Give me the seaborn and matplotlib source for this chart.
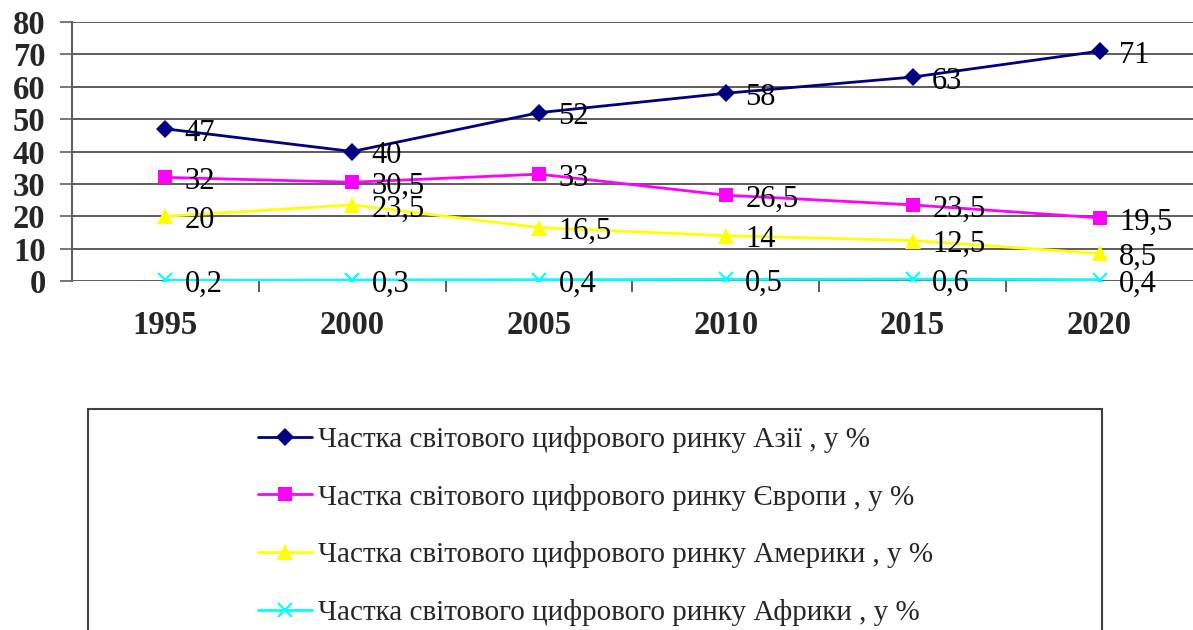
import matplotlib
matplotlib.use("Agg")
import matplotlib.pyplot as plt
import matplotlib.patches as mpatches
from matplotlib.lines import Line2D
import seaborn as sns

years = ["1995", "2000", "2005", "2010", "2015", "2020"]
asia = [47, 40, 52, 58, 63, 71]
europe = [32, 30.5, 33, 26.5, 23.5, 19.5]
america = [20, 23.5, 16.5, 14, 12.5, 8.5]
africa = [0.2, 0.3, 0.4, 0.5, 0.6, 0.4]

series_names = [
    "Частка світового цифрового ринку Азії , у %",
    "Частка світового цифрового ринку Європи , у %",
    "Частка світового цифрового ринку Америки , у %",
    "Частка світового цифрового ринку Африки , у %",
]
series_vals = [asia, europe, america, africa]
colors = ["#000080", "#FF00FF", "#FFFF00", "#00FFFF"]
markers = ["D", "s", "^", "x"]
msizes = [9, 10, 12, 10]

sns.set_style("white")
plt.rcParams["font.family"] = ["Liberation Serif", "DejaVu Serif"]

W, H = 1193, 630
fig = plt.figure(figsize=(W / 100, H / 100), dpi=100)
ax = fig.add_axes([72 / W, 1 - 281 / H, (W - 72) / W, (281 - 22) / H])

xs = list(range(len(years)))
handles = []
for name, vals, c, m, ms in zip(series_names, series_vals, colors, markers, msizes):
    mew = 1.5 if m == "x" else 0
    sns.lineplot(x=xs, y=vals, ax=ax, color=c, linewidth=2, marker=m,
                 markersize=ms, markeredgecolor=c, markeredgewidth=mew,
                 zorder=3, legend=False)
    for x, v in zip(xs, vals):
        lbl = f"{v:g}".replace(".", ",")
        ax.annotate(lbl, (x, v), xytext=(14, -3), textcoords="offset points",
                    ha="left", va="center", fontsize=22, color="black", zorder=4)
    handles.append(Line2D([], [], color=c, linewidth=2, marker=m, markersize=ms,
                          markeredgecolor=c, markeredgewidth=mew))

ax.set_xlim(-0.5, len(years) - 0.5)
ax.set_ylim(0, 80)
ax.set_yticks(range(0, 81, 10))
ax.set_xticks(xs)
ax.set_xticklabels(years)
ax.set_xticks([x + 0.5 for x in xs[:-1]], minor=True)
ax.yaxis.grid(True, color="#303030", linewidth=1.1)
ax.set_axisbelow(True)
for side in ["top", "right", "bottom"]:
    ax.spines[side].set_visible(False)
ax.spines["left"].set_color("#606060")
ax.spines["left"].set_linewidth(1.5)
ax.axhline(0, color="#606060", linewidth=2, zorder=1)
ax.tick_params(axis="y", which="major", length=9, width=1.2, color="#606060",
               pad=10, labelsize=23.5, direction="out", left=True)
ax.tick_params(axis="x", which="major", length=0, pad=21, labelsize=23.5)
ax.tick_params(axis="x", which="minor", length=8, width=1.2, color="#404040",
               direction="out", bottom=True)
for t in ax.get_xticklabels() + ax.get_yticklabels():
    t.set_fontweight("bold")

fig.patches.append(mpatches.Rectangle((88 / W, -0.05), (1102 - 88) / W, 0.05 + 1 - 409 / H,
                                      transform=fig.transFigure, fill=False,
                                      edgecolor="#404040", linewidth=1.5))
fig.legend(handles, series_names, loc="upper left",
           bbox_to_anchor=(258 / W, 1 - 426 / H), frameon=False,
           fontsize=21, handlelength=1.85, handletextpad=0.2,
           labelspacing=1.05, borderpad=0, borderaxespad=0)

fig.savefig("out.png", dpi=100)
